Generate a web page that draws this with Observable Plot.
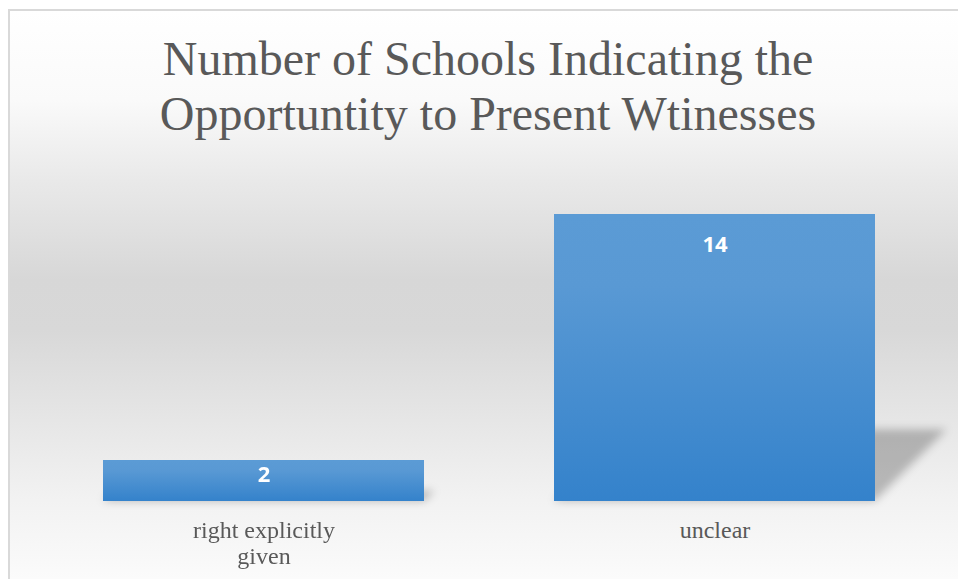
<!DOCTYPE html>
<html>
<head>
<meta charset="utf-8">
<script src="https://cdn.jsdelivr.net/npm/d3@7"></script>
<script src="https://cdn.jsdelivr.net/npm/@observablehq/plot@0.6"></script>
<style>
  html, body { margin: 0; padding: 0; background: #ffffff; overflow: hidden; width: 958px; height: 579px; }
  #frame {
    position: absolute; left: 8px; top: 9px;
    width: 1000px; height: 600px;
    border-top: 2px solid #d9d9d9; border-left: 2px solid #d9d9d9;
    background: linear-gradient(to bottom,
      #ffffff 0px, #fafafa 89px, #e9e9e9 169px, #d7d7d7 269px,
      #d8d8d8 319px, #e6e6e6 409px, #f2f2f2 489px, #fbfbfb 568px, #fcfcfc 600px);
  }
  #title {
    width: 956px; padding-top: 20px; text-align: center;
    font-family: "Liberation Serif", "Times New Roman", serif;
    font-size: 48px; line-height: 55px; color: #595959;
  }
  #chart svg { display: block; }
</style>
</head>
<body>
<div id="frame">
  <div id="title">Number of Schools Indicating the<br>Opportuntity to Present Wtinesses</div>
  <div id="chart"></div>
</div>
<script>
const categories = ["right explicitly given", "unclear"];
const counts = [2, 14];
const data = categories.map((c, i) => ({category: c, value: counts[i]}));

const plot = Plot.plot({
  width: 948,
  height: 438,
  marginLeft: 28,
  marginRight: 18,
  marginTop: 73,
  marginBottom: 78,
  style: {background: "transparent", overflow: "visible"},
  x: {domain: categories, paddingInner: 0.288, paddingOuter: 0.144, axis: null},
  y: {domain: [0, 14], axis: null},
  marks: [
    Plot.barY(data, {x: "category", y: d => d.value * 0.25, fill: "#000000", fillOpacity: 0.24}),
    Plot.barY(data, {x: "category", y: "value", fill: "url(#barGrad)"}),
    Plot.text(data, {filter: d => d.value >= 5, x: "category", y: "value", text: d => String(d.value), dy: 30,
      fill: "white", fontFamily: "Open Sans", fontWeight: "bold", fontSize: 22}),
    Plot.text(data, {filter: d => d.value < 5, x: "category", y: "value", text: d => String(d.value), dy: 14,
      fill: "white", fontFamily: "Open Sans", fontWeight: "bold", fontSize: 22}),
    Plot.axisX({tickSize: 0, tickPadding: 19, label: null, fontSize: 24, lineWidth: 7, lineHeight: 1.05,
      fontFamily: "Liberation Serif", color: "#595959"})
  ]
});

document.getElementById("chart").appendChild(plot);

const svg = d3.select(plot);
const defs = svg.insert("defs", ":first-child");
const grad = defs.append("linearGradient").attr("id", "barGrad").attr("x1", 0).attr("y1", 0).attr("x2", 0).attr("y2", 1);
grad.append("stop").attr("offset", "0%").attr("stop-color", "#5b9bd5");
grad.append("stop").attr("offset", "25%").attr("stop-color", "#5999d4");
grad.append("stop").attr("offset", "100%").attr("stop-color", "#3482cb");
const filt = defs.append("filter").attr("id", "shadowBlur")
  .attr("x", "-30%").attr("y", "-60%").attr("width", "160%").attr("height", "220%");
filt.append("feGaussianBlur").attr("stdDeviation", 4);

const barGroups = svg.selectAll('g[aria-label="bar"]').nodes();
if (barGroups.length) {
  const sg = d3.select(barGroups[0]);
  sg.attr("filter", "url(#shadowBlur)");
  sg.selectAll("rect").each(function() {
    const r = d3.select(this);
    const base = +r.attr("y") + +r.attr("height");
    r.attr("transform", `translate(0,${base}) skewX(-45) translate(0,${-base})`);
  });
}
</script>
</body>
</html>
